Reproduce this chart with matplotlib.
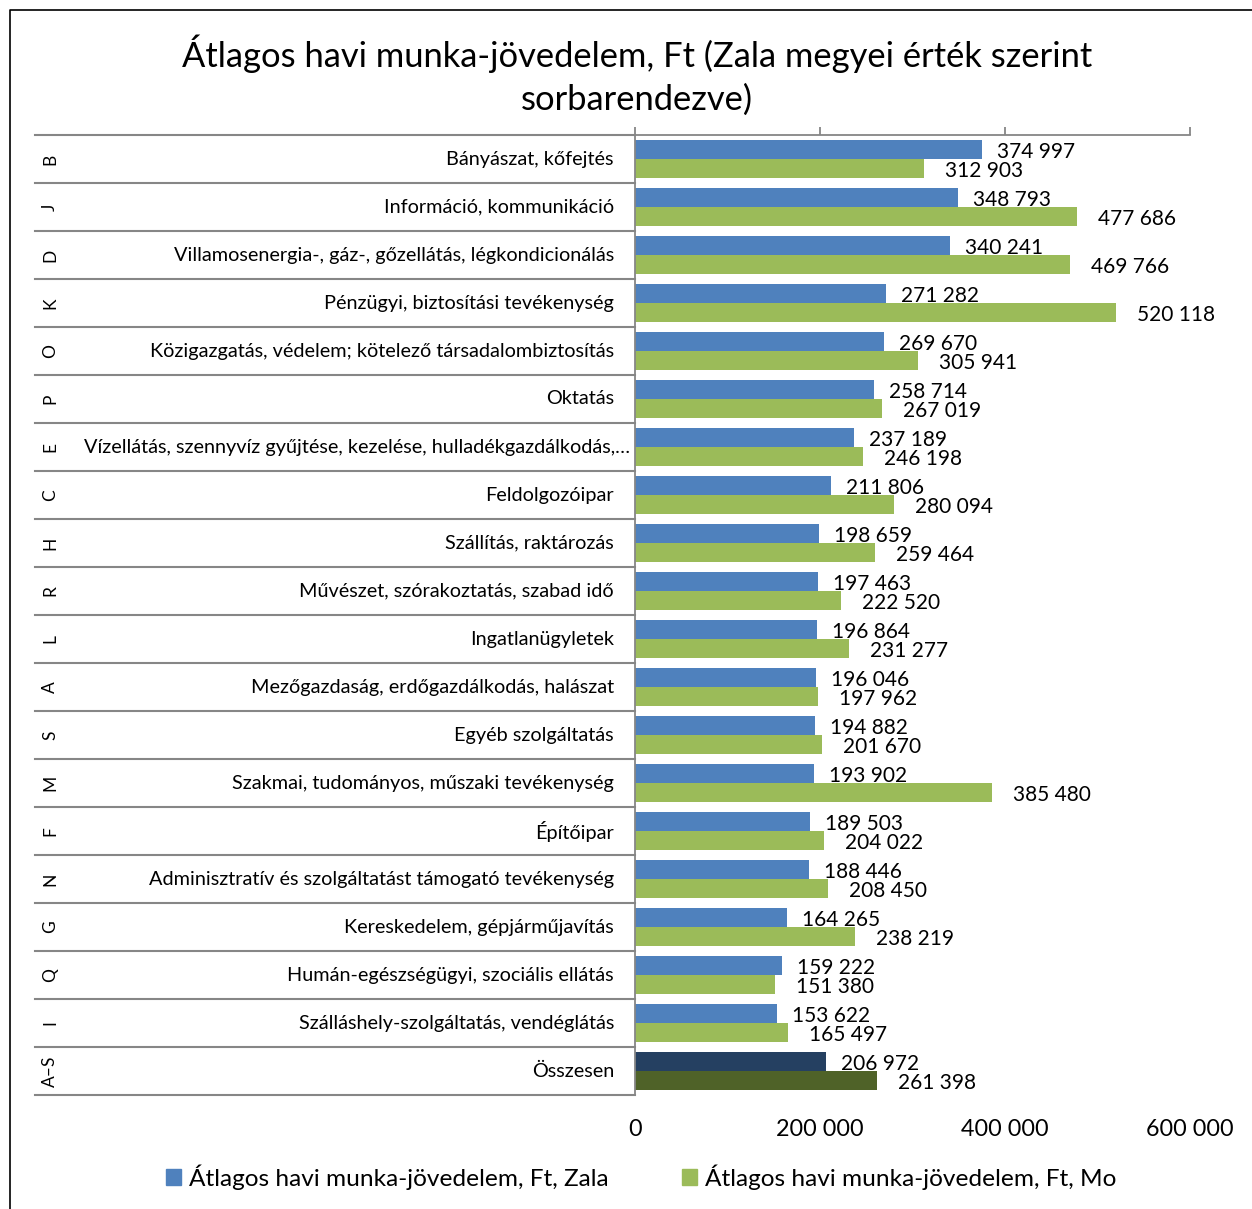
#!/usr/bin/env python3
import matplotlib
matplotlib.use('Agg')
import matplotlib.pyplot as plt
import matplotlib.transforms as mtransforms
from matplotlib.patches import Patch
from matplotlib.lines import Line2D

plt.rcParams['font.family'] = ['Lato', 'DejaVu Sans']

# data, top row first
codes = ['B', 'J', 'D', 'K', 'O', 'P', 'E', 'C', 'H', 'R',
         'L', 'A', 'S', 'M', 'F', 'N', 'G', 'Q', 'I', 'A–S']
names = ['Bányászat, kőfejtés',
         'Információ, kommunikáció',
         'Villamosenergia-, gáz-, gőzellátás, légkondicionálás',
         'Pénzügyi, biztosítási tevékenység',
         'Közigazgatás, védelem; kötelező társadalombiztosítás',
         'Oktatás',
         'Vízellátás, szennyvíz gyűjtése, kezelése, hulladékgazdálkodás,…',
         'Feldolgozóipar',
         'Szállítás, raktározás',
         'Művészet, szórakoztatás, szabad idő',
         'Ingatlanügyletek',
         'Mezőgazdaság, erdőgazdálkodás, halászat',
         'Egyéb szolgáltatás',
         'Szakmai, tudományos, műszaki tevékenység',
         'Építőipar',
         'Adminisztratív és szolgáltatást támogató tevékenység',
         'Kereskedelem, gépjárműjavítás',
         'Humán-egészségügyi, szociális ellátás',
         'Szálláshely-szolgáltatás, vendéglátás',
         'Összesen']
zala = [374997, 348793, 340241, 271282, 269670, 258714, 237189, 211806, 198659, 197463,
        196864, 196046, 194882, 193902, 189503, 188446, 164265, 159222, 153622, 206972]
orszag = [312903, 477686, 469766, 520118, 305941, 267019, 246198, 280094, 259464, 222520,
          231277, 197962, 201670, 385480, 204022, 208450, 238219, 151380, 165497, 261398]
xticks = [0, 200000, 400000, 600000]

blue, green = '#4F81BD', '#9BBB59'
dblue, dgreen = '#254061', '#4F6228'
grid_col = '#868686'

fig = plt.figure(figsize=(12.52, 12.09), dpi=100)
W, H = 1252, 1209
ax = fig.add_axes([635 / W, 1 - 1095 / H, (1190 - 635) / W, (1095 - 135) / H])

n = len(codes)
h = 0.39
ys = list(range(n))
bcol = [blue] * (n - 1) + [dblue]
gcol = [green] * (n - 1) + [dgreen]
ax.barh([y - h / 2 for y in ys], zala, height=h, color=bcol)
ax.barh([y + h / 2 for y in ys], orszag, height=h, color=gcol)

def fmt(v):
    return f'{v:,}'.replace(',', ' ')

for y, a, b in zip(ys, zala, orszag):
    ax.annotate(fmt(a), (a, y - h / 2), xytext=(15, -2), textcoords='offset pixels',
                ha='left', va='center', fontsize=15)
    ax.annotate(fmt(b), (b, y + h / 2), xytext=(21, -3), textcoords='offset pixels',
                ha='left', va='center', fontsize=15)

ax.set_xlim(0, 600000)
ax.set_ylim(n - 0.5, -0.5)
ax.set_yticks([])
ax.set_xticks(xticks)
ax.set_xticklabels([fmt(t) for t in xticks], fontsize=16.8)
ax.tick_params(axis='x', top=True, bottom=False, labeltop=False, labelbottom=True,
               direction='out', length=6, color=grid_col, width=1.3, pad=11)
for s in ['right', 'bottom']:
    ax.spines[s].set_visible(False)
for s in ['left', 'top']:
    ax.spines[s].set_color(grid_col)
    ax.spines[s].set_linewidth(1.3)

# category table on the left
tr = mtransforms.blended_transform_factory(fig.transFigure, ax.transData)
for k in range(n + 1):
    ax.add_line(Line2D([35 / W, 635 / W], [k - 0.5, k - 0.5], transform=tr,
                       color=grid_col, lw=1.5, clip_on=False))
for y, c, name in zip(ys, codes, names):
    ax.text(50 / W, y, c, transform=tr, rotation=90, ha='center', va='center',
            fontsize=12.5, clip_on=False)
    # the truncated long name starts right after the code column
    if name.endswith('…'):
        ax.text(84 / W, y, name, transform=tr, ha='left', va='center',
                fontsize=14.3, clip_on=False)
    else:
        ax.text(614 / W, y, name, transform=tr, ha='right', va='center',
                fontsize=14.3, clip_on=False)

fig.text(637 / W, 1 - 75 / H,
         'Átlagos havi munka-jövedelem, Ft (Zala megyei érték szerint\nsorbarendezve)',
         ha='center', va='center', fontsize=24.8, linespacing=1.4)

fig.legend(handles=[Patch(color=blue, label='Átlagos havi munka-jövedelem, Ft, Zala'),
                    Patch(color=green, label='Átlagos havi munka-jövedelem, Ft, Mo')],
           loc='center', bbox_to_anchor=(641 / W, 1 - 1177 / H), ncol=2, frameon=False,
           fontsize=17.6, handlelength=0.62, handleheight=0.62, handletextpad=0.33,
           columnspacing=3.0)

# outer frame (left and top edges visible)
fig.add_artist(Line2D([10 / W, 10 / W, 1.0], [0, 1 - 10 / H, 1 - 10 / H],
                      transform=fig.transFigure, color='black', lw=1.2))

fig.savefig('out.png', dpi=100)
